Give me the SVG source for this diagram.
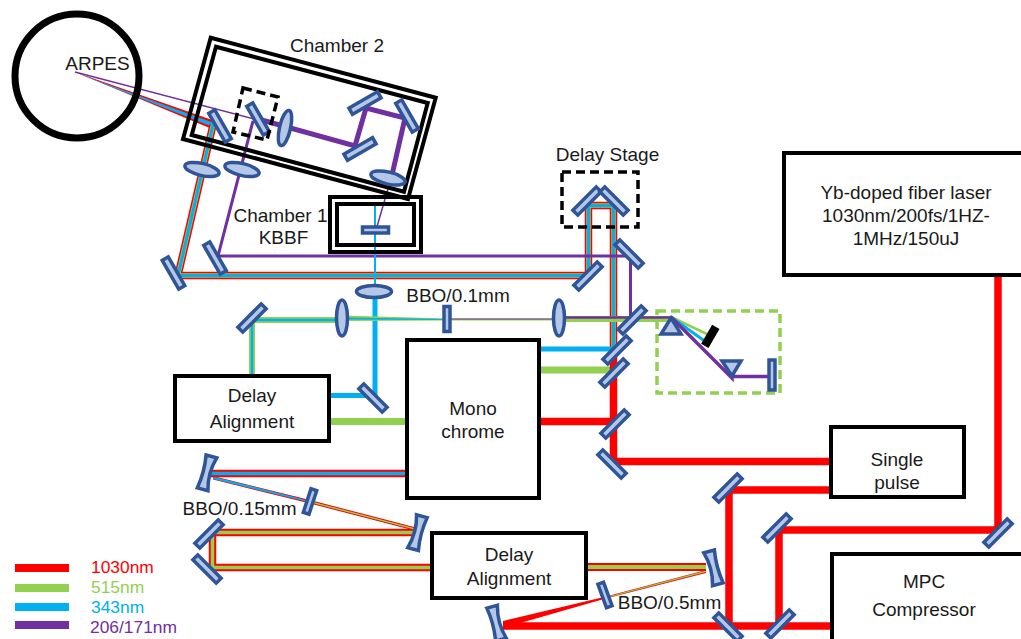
<svg xmlns="http://www.w3.org/2000/svg" width="1021" height="639" viewBox="0 0 1021 639">
<style>
text{font-family:"Liberation Sans",Arial,sans-serif;font-size:19px;fill:#1a1a1a;text-anchor:middle}
.leg{font-size:17.400px;text-anchor:start}
.box{fill:#fff;stroke:#000;stroke-width:4}
.wire{fill:none;stroke:#000;stroke-width:4}
.dash{fill:none;stroke:#000;stroke-width:3.500;stroke-dasharray:9 5}
.beam{fill:none;stroke-linejoin:miter}
.r{stroke:#f00}.g{stroke:#92d050}.b{stroke:#00b0f0}.p{stroke:#7030a0}
.optic{fill:#b4c7e7;stroke:#2f5597;stroke-width:3.500}
.mir{fill:#b4c7e7;stroke:#2f5597;stroke-width:3.500}
</style>
<defs>
<rect id="mirror" class="mir" x="-16.500" y="-3.500" width="33" height="7"/>
<rect id="plate" class="mir" x="-3" y="-12.500" width="6" height="25"/>
<ellipse id="lensV" class="optic" rx="5.500" ry="18"/>
<ellipse id="lensH" class="optic" rx="17.500" ry="6"/>
<path id="curved" class="optic" d="M-6,-17 L5,-17 Q0,0 5,17 L-6,17 Q-3,0 -6,-17 Z"/>
</defs>

<g id="connectors">
<polygon points="75,72 215,121 212,129" fill="#f00"/>
<polygon points="75,72.500 214,123 213,127" fill="#00b0f0"/>
<path class="beam r" stroke-width="7.500" d="M213,125 L178,275.500 H588.500 V205.500 H613.500 V350"/>
<path class="beam g" stroke-width="4.500" d="M213,125 L178,275.500 H588.500 V205.500 H613.500 V350"/>
<path class="beam b" stroke-width="3" d="M213,125 L178,275.500 H588.500 V205.500 H613.500 V350"/>
<path class="beam p" stroke-width="1.500" d="M75,72 L258,120"/>
<path class="beam p" stroke-width="5" d="M258,119 L355,146 L366,108 L405,118 L392,175"/>
<path class="beam p" stroke-width="1.500" d="M392,175 L376,230"/>
<path class="beam p" stroke-width="3" d="M253,121 L218,256 H630.500 V320"/>
<path class="beam b" stroke-width="2" d="M375,202 V291"/>
<path class="beam b" stroke-width="5" d="M375,291 V395.500 H329"/>
<path class="beam b" stroke-width="5" d="M540,349 H617"/>
<path class="beam g" stroke-width="7" d="M329,421.500 H407"/>
<path class="beam g" stroke-width="7" d="M540,370 H614"/>
<path class="beam g" stroke-width="6" d="M252,376 V320 H342"/>
<path class="beam b" stroke-width="2.500" d="M252,376 V320 H342"/>
<polygon points="342,315.500 447,318.500 447,320.500 342,321" fill="#92d050"/>
<polygon points="342,317.500 447,319 447,320 342,319.500" fill="#00b0f0"/>
<path class="beam g" stroke-width="2" d="M447,319.500 H559"/>
<path class="beam p" stroke-width="1" d="M447,319 H559"/>
<path class="beam g" stroke-width="6" d="M559,319 H671"/>
<path class="beam p" stroke-width="2.500" d="M559,317.500 H671"/>
<path class="beam g" stroke-width="2.500" d="M671,317 L709,335"/>
<path class="beam b" stroke-width="3" d="M671,317 L706,342"/>
<path class="beam p" stroke-width="3.500" d="M671,317 L732,378 V376.500 H772"/>
<path class="beam r" stroke-width="7.500" d="M613.500,350 V461.500 H831"/>
<path class="beam r" stroke-width="7.500" d="M540,421.500 H614"/>
<path class="beam r" stroke-width="7.500" d="M831,490 H729 V626"/>
<path class="beam r" stroke-width="7.500" d="M998,276 V530 H779 V626"/>
<path class="beam r" stroke-width="7.500" d="M832,626 H503"/>
<polygon points="503,621 604,597 706,570 706,573 604,599 503,628" fill="#f00"/>
<polygon points="604,597.500 706,570.500 706,572 604,598.500" fill="#92d050"/>
<path class="beam r" stroke-width="8" d="M586,567 H706"/>
<path class="beam g" stroke-width="4" d="M586,567 H706"/>
<path class="beam r" stroke-width="7.500" d="M432,567.500 H212.500 V532.500 H416"/>
<path class="beam g" stroke-width="3.500" d="M432,567.500 H212.500 V532.500 H416"/>
<polygon points="416,527.500 310,500 213,476 213,479.500 310,503.500 416,531" fill="#f00"/>
<polygon points="416,528.500 310,501 310,502.500 416,530" fill="#92d050"/>
<polygon points="213,476.500 310,501 310,502.500 213,479" fill="#00b0f0"/>
<path class="beam r" stroke-width="7.500" d="M208,473.500 H407"/>
<path class="beam b" stroke-width="3.500" d="M208,473.500 H407"/>
</g>

<g id="arpes"><circle cx="77" cy="76" r="62" fill="none" stroke="#000" stroke-width="7"/><text x="97.500" y="70">ARPES</text></g>
<g id="chamber2"><polygon class="wire" points="210.700,37.700 435.700,97.700 408,199 183,139"/><polygon class="wire" points="216,46.700 427.700,103 404,191.700 191.700,135"/><text x="337" y="52">Chamber 2</text></g>
<g id="chamber1"><rect class="wire" x="330" y="197" width="91" height="55"/><rect class="wire" x="337" y="204" width="77" height="41"/><text x="280.500" y="222">Chamber 1</text><text x="283.500" y="244">KBBF</text></g>
<g id="delay-stage"><rect class="dash" x="562" y="172" width="76" height="55"/><text x="607.500" y="161">Delay Stage</text></g>
<g id="laser"><rect class="box" x="784" y="153" width="250" height="122"/><text x="906" y="199">Yb-doped fiber laser</text><text x="906" y="222">1030nm/200fs/1HZ-</text><text x="906" y="245">1MHz/150uJ</text></g>
<g id="delay-alignment-1"><rect class="box" x="175" y="376" width="154" height="65"/><text x="252" y="402">Delay</text><text x="252" y="428">Alignment</text></g>
<g id="monochrome"><rect class="box" x="407" y="340" width="132" height="158"/><text x="473" y="415">Mono</text><text x="473" y="438">chrome</text></g>
<g id="delay-alignment-2"><rect class="box" x="432" y="533" width="154" height="65"/><text x="509" y="561">Delay</text><text x="509" y="585">Alignment</text></g>
<g id="single-pulse"><rect class="box" x="831" y="427" width="133" height="70"/><text x="897" y="466">Single</text><text x="897" y="489">pulse</text></g>
<g id="mpc"><rect class="box" x="832" y="554" width="200" height="100"/><text x="924" y="588">MPC</text><text x="924" y="616">Compressor</text></g>
<g id="prism-box"><rect x="657" y="311" width="123" height="82" fill="none" stroke="#92d050" stroke-width="3.500" stroke-dasharray="9 5"/></g>

<g id="optics">
<use href="#mirror" transform="translate(220,126) rotate(60)"/>
<use href="#mirror" transform="translate(258,119) rotate(60)"/>
<use href="#mirror" transform="translate(365,103) rotate(-30)"/>
<use href="#mirror" transform="translate(407,116) rotate(60)"/>
<use href="#mirror" transform="translate(360,149) rotate(-30)"/>
<use href="#mirror" transform="translate(173.500,273) rotate(60)"/>
<use href="#mirror" transform="translate(215,258) rotate(60)"/>
<use href="#mirror" transform="translate(587,201) rotate(-45)"/>
<use href="#mirror" transform="translate(614,201) rotate(45)"/>
<use href="#mirror" transform="translate(588,276) rotate(-45)"/>
<use href="#mirror" transform="translate(629,254) rotate(45)"/>
<use href="#mirror" transform="translate(632,320) rotate(-45)"/>
<use href="#mirror" transform="translate(617,350) rotate(-45)"/>
<use href="#mirror" transform="translate(614,373) rotate(-45)"/>
<use href="#mirror" transform="translate(615,424) rotate(-45)"/>
<use href="#mirror" transform="translate(612,464) rotate(45)"/>
<use href="#mirror" transform="translate(728,488) rotate(-45)"/>
<use href="#mirror" transform="translate(777,528) rotate(-45)"/>
<use href="#mirror" transform="translate(998,533) rotate(-45)"/>
<use href="#mirror" transform="translate(728,627) rotate(45)"/>
<use href="#mirror" transform="translate(780,624) rotate(-45)"/>
<use href="#mirror" transform="translate(252,318) rotate(-45)"/>
<use href="#mirror" transform="translate(373,398) rotate(45)"/>
<use href="#mirror" transform="translate(209,534) rotate(-45)"/>
<use href="#mirror" transform="translate(207,569) rotate(45)"/>
<use href="#lensV" transform="translate(285,128) rotate(13)"/>
<use href="#lensV" transform="translate(342,318)"/>
<use href="#lensV" transform="translate(559,318)"/>
<use href="#lensH" transform="translate(388,178) rotate(13)"/>
<use href="#lensH" transform="translate(202,169.500) rotate(13)"/>
<use href="#lensH" transform="translate(242,169.500) rotate(13)"/>
<use href="#lensH" transform="translate(374,291.500)"/>
<rect class="mir" x="362.500" y="227" width="26" height="6"/>
<use href="#plate" transform="translate(447,319)"/>
<use href="#plate" transform="translate(310,501.500) rotate(18)"/>
<use href="#plate" transform="translate(605,595) rotate(-20)"/>
<use href="#curved" transform="translate(207.500,473) rotate(15)"/>
<use href="#curved" transform="translate(417,532.500) rotate(15) scale(-1,1)"/>
<use href="#curved" transform="translate(713,568) rotate(-15) scale(-1,1)"/>
<use href="#curved" transform="translate(497,623) rotate(-15)"/>
<polygon class="optic" points="671,318 681,334 661,334"/>
<polygon class="optic" points="722,361 741,361 732,376"/>
<rect class="mir" x="769" y="360" width="6" height="30"/>
<line x1="715.800" y1="326.800" x2="704.800" y2="345.800" stroke="#000" stroke-width="8.500"/>
<polygon class="dash" points="243,88 278,97 267,140 233,132"/>
</g>

<g id="labels">
<text x="458" y="302">BBO/0.1mm</text>
<text x="239.500" y="515">BBO/0.15mm</text>
<text x="669.500" y="609">BBO/0.5mm</text>
</g>

<g id="legend">
<rect x="15" y="564" width="54" height="8" fill="#f00"/><text class="leg" x="91" y="573" style="fill:#f00">1030nm</text>
<rect x="15" y="584" width="54" height="8" fill="#92d050"/><text class="leg" x="91" y="593" style="fill:#92d050">515nm</text>
<rect x="15" y="603" width="54" height="8" fill="#00b0f0"/><text class="leg" x="91" y="613" style="fill:#00b0f0">343nm</text>
<rect x="15" y="621" width="54" height="8" fill="#7030a0"/><text class="leg" x="90" y="633" style="fill:#7030a0">206/171nm</text>
</g>
</svg>
